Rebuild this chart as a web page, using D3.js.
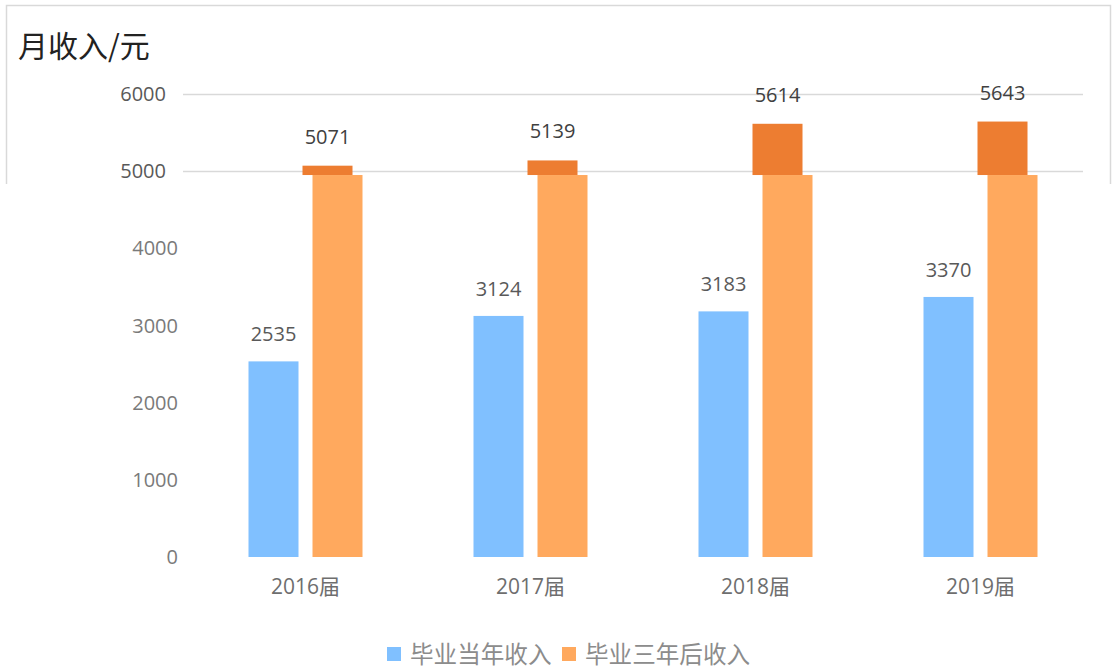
<!DOCTYPE html>
<html><head><meta charset="utf-8">
<script src="https://cdn.jsdelivr.net/npm/d3@7"></script>
<style>html,body{margin:0;padding:0;background:#fff;}svg{display:block;}</style>
</head><body>
<svg id="c" width="1113" height="672"></svg>
<script>
const categories = ["2016届","2017届","2018届","2019届"];
const seriesNames = ["毕业当年收入","毕业三年后收入"];
const firstYear = [2535,3124,3183,3370];
const threeYear = [5071,5139,5614,5643];
const upperTicks = [6000,5000];
const lowerTicks = [4000,3000,2000,1000,0];
const splitValue = 4950; // where the lower panel's bars start being covered
const title = "月收入/元";

const font = "'Noto Sans CJK SC','Noto Sans',sans-serif";
const numFont = "'Open Sans','Noto Sans CJK SC',sans-serif";
const svg = d3.select("#c");
const y = d3.scaleLinear().domain([0,6000]).range([557,94]);
const x = d3.scaleBand().domain(categories).range([193,1093]);
const inner = d3.scaleBand().domain([0,1]).range([-57,57]).paddingInner(0.21875);
const cx = c => x(c) + x.bandwidth()/2;
const colBlue = "#80C0FF", colOrange = "#FFA95E", colCap = "#ED7D31";

// upper panel border
svg.append("rect").attr("x",6.5).attr("y",5.5).attr("width",1104).attr("height",200)
  .attr("fill","#fff").attr("stroke","#d9d9d9").attr("stroke-width",1.5);
svg.append("text").attr("x",18).attr("y",57).attr("font-family",font).attr("font-size",30)
  .attr("fill","#222").text(title);

// upper gridlines + labels
const gUp = svg.append("g");
gUp.selectAll("line").data(upperTicks).join("line")
  .attr("x1",183).attr("x2",1083).attr("y1",d=>Math.round(y(d))+0.5).attr("y2",d=>Math.round(y(d))+0.5)
  .attr("stroke","#d9d9d9").attr("stroke-width",1.5);
gUp.selectAll("text").data(upperTicks).join("text")
  .attr("x",166).attr("y",d=>y(d)+7).attr("text-anchor","end")
  .attr("font-family",numFont).attr("font-size",20).attr("fill","#595959").text(d=>d);

// dark caps
svg.append("g").selectAll("rect").data(threeYear).join("rect")
  .attr("x",(d,i)=>cx(categories[i])+inner(1)-10).attr("width",inner.bandwidth())
  .attr("y",d=>y(d)).attr("height",d=>y(splitValue)-y(d)).attr("fill",colCap);
svg.append("g").selectAll("text").data(threeYear).join("text")
  .attr("x",(d,i)=>cx(categories[i])+inner(1)-10+inner.bandwidth()/2).attr("y",d=>y(d)-22)
  .attr("text-anchor","middle").attr("font-family",numFont).attr("font-size",20).attr("fill","#404040").text(d=>d);

// lower panel (white cover)
svg.append("rect").attr("x",0).attr("y",184).attr("width",1113).attr("height",488).attr("fill","#fff");

// lower ticks
svg.append("g").selectAll("text").data(lowerTicks).join("text")
  .attr("x",178).attr("y",d=>y(d)+7).attr("text-anchor","end")
  .attr("font-family",numFont).attr("font-size",20).attr("fill","#7a7a7a").text(d=>d);

// light orange bars
svg.append("g").selectAll("rect").data(threeYear).join("rect")
  .attr("x",(d,i)=>cx(categories[i])+inner(1)).attr("width",inner.bandwidth())
  .attr("y",d=>y(Math.min(d,splitValue))).attr("height",d=>y(0)-y(Math.min(d,splitValue))).attr("fill",colOrange);
// blue bars
svg.append("g").selectAll("rect").data(firstYear).join("rect")
  .attr("x",(d,i)=>cx(categories[i])+inner(0)).attr("width",inner.bandwidth())
  .attr("y",d=>y(d)).attr("height",d=>y(0)-y(d)).attr("fill",colBlue);
svg.append("g").selectAll("text").data(firstYear).join("text")
  .attr("x",(d,i)=>cx(categories[i])+inner(0)+inner.bandwidth()/2).attr("y",d=>y(d)-20)
  .attr("text-anchor","middle").attr("font-family",numFont).attr("font-size",20).attr("fill","#595959").text(d=>d);

// x labels
svg.append("g").selectAll("text").data(categories).join("text")
  .attr("x",d=>cx(d)).attr("y",594).attr("text-anchor","middle")
  .attr("font-family",numFont).attr("font-size",21).attr("fill","#6e6e6e").text(d=>d);

// legend
const legendX = [387,562];
const legendColors = [colBlue,colOrange];
const lg = svg.append("g").selectAll("g").data(seriesNames).join("g")
  .attr("transform",(d,i)=>`translate(${legendX[i]},0)`);
lg.append("rect").attr("x",0).attr("y",647).attr("width",14).attr("height",14).attr("fill",(d,i)=>legendColors[i]);
lg.append("text").attr("x",23).attr("y",663).attr("font-family",font).attr("font-size",23.6)
  .attr("fill","#8c8c8c").text(d=>d);
</script>
</body></html>
